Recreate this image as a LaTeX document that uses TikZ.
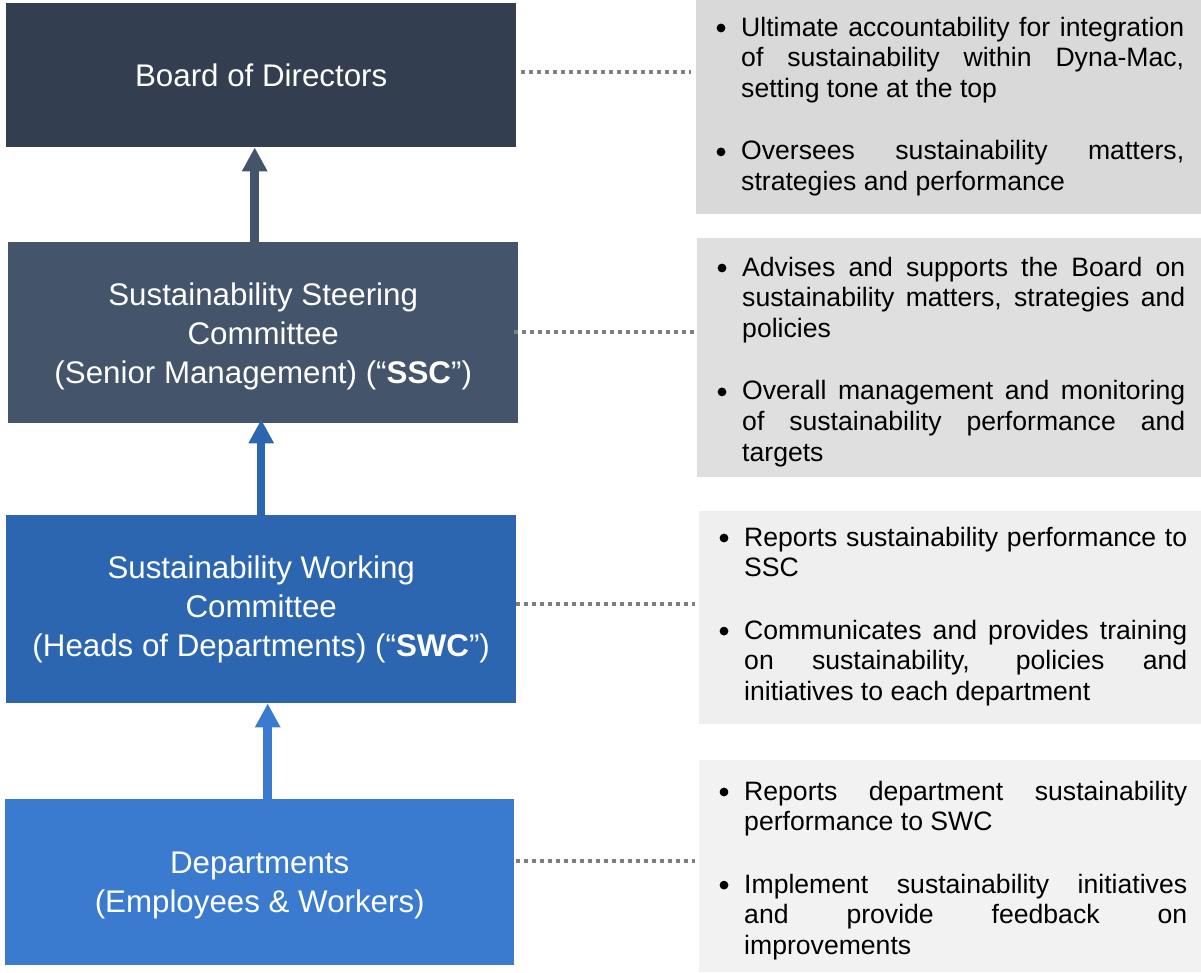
\documentclass[tikz,border=0pt]{standalone}
\usepackage{fontspec}
\setmainfont{Liberation Sans}
\usetikzlibrary{arrows.meta}

\definecolor{boardc}{HTML}{333F50}
\definecolor{sscc}{HTML}{44546A}
\definecolor{swcc}{HTML}{2C66B0}
\definecolor{deptc}{HTML}{3A7BD0}
\definecolor{noteA}{HTML}{D9D9D9}
\definecolor{noteB}{HTML}{DFDFDF}
\definecolor{noteC}{HTML}{EFEFEF}
\definecolor{noteD}{HTML}{F2F2F2}
\definecolor{dotc}{HTML}{7F7F7F}

% one justified line of a note
\newcommand\jl[1]{\makebox[443pt][s]{#1}}
\newcommand\notefont{\fontsize{26.6}{30.8}\selectfont}

\tikzset{
  lbox/.style={anchor=north west, inner sep=0pt},
  ltext/.style={inner sep=0pt, text=white, align=center,
    font=\fontsize{31.3}{39}\selectfont},
  rbox/.style={anchor=north west, inner sep=0pt},
  notetext/.style={anchor=base west, inner sep=0pt, text=black},
  bulletdot/.style={circle, fill=black, inner sep=0pt, minimum size=8.8pt},
  dotline/.style={draw=dotc, line width=4pt, dash pattern=on 4pt off 4pt},
  uparrow/.style={line width=8.5pt, -{Triangle[width=24pt,length=24pt]}}
}

\begin{document}
\begin{tikzpicture}[x=1pt, y=-1pt]
\useasboundingbox[fill=white] (0,0) rectangle (1201,972);

% hierarchy boxes
\node[lbox, fill=boardc, minimum width=510pt, minimum height=144pt] (board) at (6,3) {};
\node[lbox, fill=sscc, minimum width=510pt, minimum height=181pt] (ssc) at (8,242) {};
\node[lbox, fill=swcc, minimum width=510pt, minimum height=188pt] (swc) at (6,515) {};
\node[lbox, fill=deptc, minimum width=509pt, minimum height=166pt] (dept) at (5,799) {};

% their titles
\node[ltext] (boardt) at (board.center) {Board of Directors};
\node[ltext] (ssct) at ([yshift=-4pt]ssc.center)
  {Sustainability Steering\\Committee\\(Senior Management) (“\textbf{SSC}”)};
\node[ltext] (swct) at ([yshift=-0.5pt]swc.center)
  {Sustainability Working\\Committee\\(Heads of Departments) (“\textbf{SWC}”)};
\node[ltext] (deptt) at ([yshift=-3pt]dept.center)
  {Departments\\(Employees \& Workers)};

% note panels
\node[rbox, fill=noteA, minimum width=505pt, minimum height=214pt] (r1) at (696,0) {};
\node[rbox, fill=noteB, minimum width=504pt, minimum height=239pt] (r2) at (697,238) {};
\node[rbox, fill=noteC, minimum width=502pt, minimum height=213pt] (r3) at (699,511) {};
\node[rbox, fill=noteD, minimum width=502pt, minimum height=212pt] (r4) at (699,760) {};

\node[notetext] (t1) at (741,36) {\parbox[t]{443pt}{\notefont
  \jl{Ultimate accountability for integration}\\
  \jl{of sustainability within Dyna-Mac,}\\
  setting tone at the top\\[31.5pt]
  \jl{Oversees sustainability matters,}\\
  strategies and performance}};
\node[notetext] (t2) at (742,276) {\parbox[t]{443pt}{\notefont
  \jl{Advises and supports the Board on}\\
  \jl{sustainability matters, strategies and}\\
  policies\\[31.5pt]
  \jl{Overall management and monitoring}\\
  \jl{of sustainability performance and}\\
  targets}};
\node[notetext] (t3) at (744,546) {\parbox[t]{443pt}{\notefont
  \jl{Reports sustainability performance to}\\
  SSC\\[31.5pt]
  \jl{Communicates and provides training}\\
  \jl{on sustainability, policies and}\\
  initiatives to each department}};
\node[notetext] (t4) at (744,800) {\parbox[t]{443pt}{\notefont
  \jl{Reports department sustainability}\\
  performance to SWC\\[31.5pt]
  \jl{Implement sustainability initiatives}\\
  \jl{and provide feedback on}\\
  improvements}};

% bullets, hung to the left of each item's first line
\node[bulletdot] (b1a) at (721,28) {};
\node[bulletdot] (b1b) at (721,151.9) {};
\node[bulletdot] (b2a) at (722,268) {};
\node[bulletdot] (b2b) at (722,391.9) {};
\node[bulletdot] (b3a) at (724,538) {};
\node[bulletdot] (b3b) at (724,631.1) {};
\node[bulletdot] (b4a) at (724,792) {};
\node[bulletdot] (b4b) at (724,885.1) {};

% upward reporting arrows
\coordinate (a1s) at ([xshift=-8.5pt]ssc.north);
\coordinate (a1e) at (a1s |- board.south);
\draw[uparrow, sscc] (a1s) -- (a1e);
\coordinate (a2s) at (swc.north);
\coordinate (a2e) at ([yshift=4pt]a2s |- ssc.south);
\draw[uparrow, swcc] (a2s) -- (a2e);
\coordinate (a3s) at ([xshift=8pt]dept.north);
\coordinate (a3e) at (a3s |- swc.south);
\draw[uparrow, deptc] (a3s) -- (a3e);

% dotted leaders to the note panels
\coordinate (d1s) at ([yshift=3.5pt,xshift=5pt]board.east);
\coordinate (d1e) at (d1s -| r1.west);
\draw[dotline] (d1s) -- ([xshift=-5pt]d1e);
\coordinate (d2s) at ([yshift=0.5pt,xshift=-4pt]ssc.east);
\coordinate (d2e) at (d2s -| r2.west);
\draw[dotline] (d2s) -- ([xshift=-2pt]d2e);
\coordinate (d3s) at ([yshift=5pt]swc.east);
\coordinate (d3e) at (d3s -| r3.west);
\draw[dotline] (d3s) -- ([xshift=-4pt]d3e);
\coordinate (d4s) at ([yshift=21pt,xshift=2pt]dept.east);
\coordinate (d4e) at (d4s -| r4.west);
\draw[dotline] (d4s) -- ([xshift=-4pt]d4e);
\end{tikzpicture}
\end{document}
